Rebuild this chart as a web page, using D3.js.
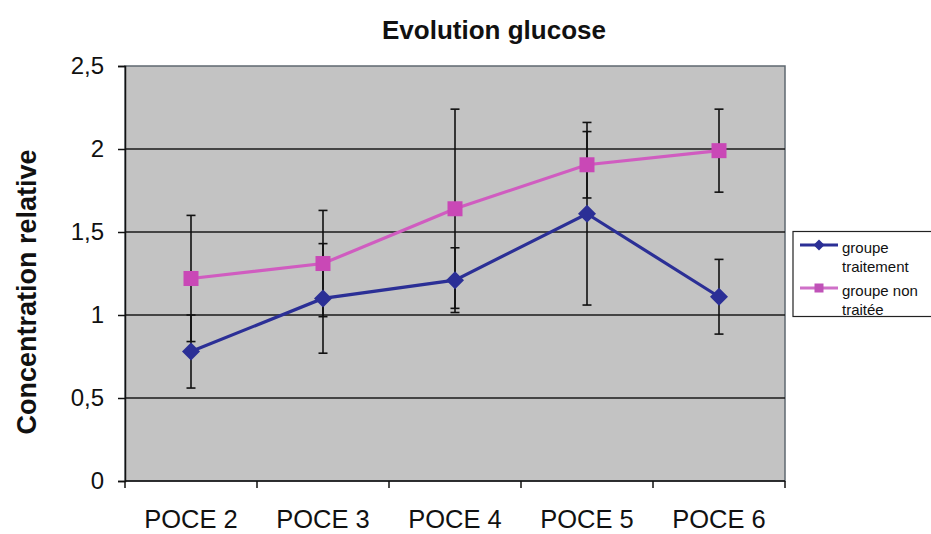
<!DOCTYPE html>
<html>
<head>
<meta charset="utf-8">
<script src="https://cdn.jsdelivr.net/npm/d3@7"></script>
<style>
  html, body { margin: 0; padding: 0; background: #fff; }
  svg { display: block; font-family: "Liberation Sans", Arial, sans-serif; }
</style>
</head>
<body>
<svg id="chart" width="931" height="534"></svg>
<script>
const categories = ["POCE 2", "POCE 3", "POCE 4", "POCE 5", "POCE 6"];
const traitementValues = [0.78, 1.10, 1.21, 1.61, 1.11];
const traitementErrors = [0.22, 0.33, 0.195, 0.55, 0.225];
const nonTraiteeValues = [1.22, 1.31, 1.64, 1.905, 1.99];
const nonTraiteeErrors = [0.38, 0.32, 0.60, 0.20, 0.25];
const yTicks = [0, 0.5, 1, 1.5, 2, 2.5];
const yTickLabels = ["0", "0,5", "1", "1,5", "2", "2,5"];
const seriesNames = [["groupe", "traitement"], ["groupe non", "traitée"]];

const svg = d3.select("#chart");
const plot = { left: 125, right: 785, top: 66, bottom: 481 };

const x = d3.scaleBand().domain(categories).range([plot.left, plot.right]).padding(0);
const y = d3.scaleLinear().domain([0, 2.5]).range([plot.bottom, plot.top]);

const blue = "#2b2f96";
const pink = "#d05cc0";
const pinkMarker = "#c948b6";

// plot background
svg.append("rect")
  .attr("x", plot.left).attr("y", plot.top)
  .attr("width", plot.right - plot.left).attr("height", plot.bottom - plot.top)
  .attr("fill", "#c3c3c3").attr("stroke", "#5f6870").attr("stroke-width", 1.5);

// gridlines
svg.append("g").selectAll("line")
  .data(yTicks.filter(d => d > 0 && d < 2.5))
  .join("line")
  .attr("x1", plot.left).attr("x2", plot.right)
  .attr("y1", d => y(d)).attr("y2", d => y(d))
  .attr("stroke", "#1a1a1a").attr("stroke-width", 1.5);

// y axis
const yAxis = d3.axisLeft(y).tickValues(yTicks)
  .tickFormat((d, i) => yTickLabels[i]).tickSize(7).tickPadding(14);
const gy = svg.append("g").attr("transform", `translate(${plot.left},0)`).call(yAxis);
gy.select(".domain").attr("stroke", "#111").attr("stroke-width", 1.5);
gy.selectAll(".tick line").attr("stroke", "#111").attr("stroke-width", 1.5);
gy.selectAll(".tick text").attr("font-size", 24).attr("fill", "#111")
  .attr("font-family", "Liberation Sans, Arial, sans-serif");

// x axis
const gx = svg.append("g").attr("transform", `translate(0,${plot.bottom})`);
gx.append("line").attr("x1", plot.left).attr("x2", plot.right).attr("y1", 0).attr("y2", 0)
  .attr("stroke", "#111").attr("stroke-width", 1.5);
const boundaries = categories.map(c => x(c)).concat([x(categories[categories.length - 1]) + x.bandwidth()]);
gx.selectAll("line.tk").data(boundaries).join("line").attr("class", "tk")
  .attr("x1", d => d).attr("x2", d => d).attr("y1", 0).attr("y2", 7)
  .attr("stroke", "#111").attr("stroke-width", 1.5);
gx.selectAll("text").data(categories).join("text")
  .attr("x", d => x(d) + x.bandwidth() / 2).attr("y", 47)
  .attr("text-anchor", "middle").attr("font-size", 25.5).attr("fill", "#111")
  .text(d => d);

// title
svg.append("text").attr("x", 494).attr("y", 39).attr("text-anchor", "middle")
  .attr("font-size", 26).attr("font-weight", "bold").attr("fill", "#111")
  .text("Evolution glucose");

// y label
svg.append("text").attr("transform", "translate(36,292) rotate(-90)")
  .attr("text-anchor", "middle").attr("font-size", 27).attr("font-weight", "bold").attr("fill", "#111")
  .text("Concentration relative");

const cx = c => x(c) + x.bandwidth() / 2;
const series = [
  { values: traitementValues, errors: traitementErrors, color: blue, marker: "diamond" },
  { values: nonTraiteeValues, errors: nonTraiteeErrors, color: pink, marker: "square" }
];

const line = d3.line().x(d => cx(d.c)).y(d => y(d.v));

// lines (pink first, then blue)
[series[1], series[0]].forEach(s => {
  const pts = categories.map((c, i) => ({ c, v: s.values[i] }));
  svg.append("path").datum(pts).attr("d", line)
    .attr("fill", "none").attr("stroke", s.color).attr("stroke-width", 3.2);
});

// error bars
series.forEach(s => {
  const g = svg.append("g").attr("stroke", "#111").attr("stroke-width", 1.6);
  categories.forEach((c, i) => {
    const hi = y(s.values[i] + s.errors[i]), lo = y(s.values[i] - s.errors[i]);
    g.append("line").attr("x1", cx(c)).attr("x2", cx(c)).attr("y1", hi).attr("y2", lo);
    g.append("line").attr("x1", cx(c) - 4.5).attr("x2", cx(c) + 4.5).attr("y1", hi).attr("y2", hi);
    g.append("line").attr("x1", cx(c) - 4.5).attr("x2", cx(c) + 4.5).attr("y1", lo).attr("y2", lo);
  });
});

// markers
function drawMarker(g, type, px, py, color, sz) {
  if (type === "diamond") {
    const h = sz / 2;
    g.append("path").attr("d", `M${px},${py - h}L${px + h},${py}L${px},${py + h}L${px - h},${py}Z`)
      .attr("fill", color);
  } else {
    g.append("rect").attr("x", px - sz / 2).attr("y", py - sz / 2)
      .attr("width", sz).attr("height", sz).attr("fill", color);
  }
}
const mg = svg.append("g");
categories.forEach((c, i) => {
  drawMarker(mg, "square", cx(c), y(nonTraiteeValues[i]), pinkMarker, 15);
});
categories.forEach((c, i) => {
  drawMarker(mg, "diamond", cx(c), y(traitementValues[i]), blue, 18);
});

// legend
const lg = svg.append("g");
lg.append("rect").attr("x", 793).attr("y", 231.5).attr("width", 150).attr("height", 85)
  .attr("fill", "#fff").attr("stroke", "#222").attr("stroke-width", 1.2);
const legendItems = [
  { name: seriesNames[0], color: blue, marker: "diamond", mcolor: blue, ly: 245 },
  { name: seriesNames[1], color: "#cf70c8", marker: "square", mcolor: "#c052b8", ly: 288 }
];
legendItems.forEach(it => {
  lg.append("line").attr("x1", 800).attr("x2", 838).attr("y1", it.ly).attr("y2", it.ly)
    .attr("stroke", it.color).attr("stroke-width", 3);
  drawMarker(lg, it.marker, 819, it.ly, it.mcolor, it.marker === "diamond" ? 11 : 9);
  it.name.forEach((t, j) => {
    lg.append("text").attr("x", 842).attr("y", it.ly + 8 + j * 19)
      .attr("font-size", 15).attr("fill", "#111").text(t);
  });
});
</script>
</body>
</html>
